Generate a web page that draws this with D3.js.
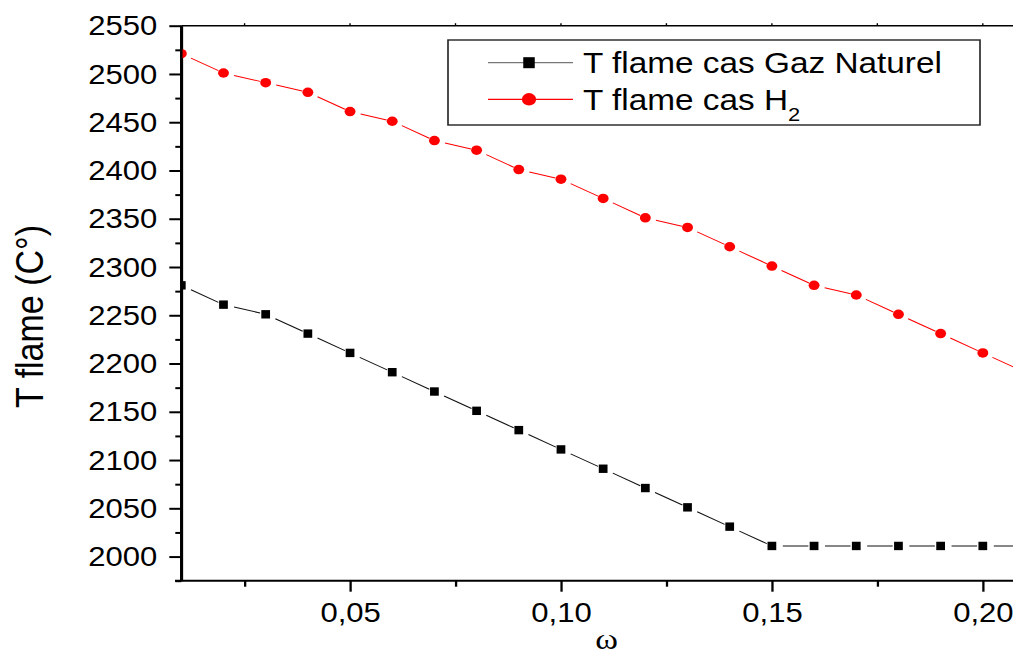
<!DOCTYPE html>
<html>
<head>
<meta charset="utf-8">
<script src="https://cdn.jsdelivr.net/npm/d3@7"></script>
<style>
  html, body { margin: 0; padding: 0; background: #fff; }
  svg { display: block; }
  text { font-family: "Liberation Sans", Arial, sans-serif; fill: #000; }
</style>
</head>
<body>
<svg id="chart"></svg>
<script>
// Mass fraction ω (x) and flame temperature (°C) for both fuels
const omega = [0.01, 0.02, 0.03, 0.04, 0.05, 0.06, 0.07, 0.08, 0.09, 0.10, 0.11,
               0.12, 0.13, 0.14, 0.15, 0.16, 0.17, 0.18, 0.19, 0.20, 0.21];
const tGazNaturel = [2281, 2261, 2251, 2231, 2211, 2191, 2171, 2151, 2131, 2111, 2091,
                     2071, 2051, 2031, 2011, 2011, 2011, 2011, 2011, 2011, 2011];
const tH2 = [2521, 2501, 2491, 2481, 2461, 2451, 2431, 2421, 2401, 2391, 2371,
             2351, 2341, 2321, 2301, 2281, 2271, 2251, 2231, 2211, 2191];

const xMajorTicks = [0.05, 0.10, 0.15, 0.20];
const xMinorTicks = [0.025, 0.075, 0.125, 0.175];
const yMajorTicks = [2000, 2050, 2100, 2150, 2200, 2250, 2300, 2350, 2400, 2450, 2500, 2550];
const yMinorTicks = [1975, 2025, 2075, 2125, 2175, 2225, 2275, 2325, 2375, 2425, 2475, 2525];

const seriesNames = ["T flame cas Gaz Naturel", "T flame cas H"];

// The drawing is laid out in a slightly narrower user space and stretched
// horizontally to fill the window.
const WIDTH = 1013, HEIGHT = 657, SX = 1.15;
const W = WIDTH / SX;
const px = v => v / SX;   // window x -> user-space x

const svg = d3.select("#chart")
  .attr("width", WIDTH).attr("height", HEIGHT)
  .attr("viewBox", `0 0 ${W} ${HEIGHT}`)
  .attr("preserveAspectRatio", "none");

const plotLeft = px(181.3), plotRight = px(1025), plotTop = 25.7, plotBottom = 580.7;

const x = d3.scaleLinear().domain([0.01, 0.21]).range([plotLeft, plotRight]);
const y = d3.scaleLinear().domain([1975, 2550]).range([plotBottom, plotTop]);

svg.append("defs").append("clipPath").attr("id", "plot")
  .append("rect").attr("x", plotLeft).attr("y", plotTop)
  .attr("width", W - plotLeft).attr("height", plotBottom - plotTop);

const fmtX = d => d3.format(".2f")(d).replace(".", ",");

// Top frame line with small outward ticks
svg.append("line").attr("x1", plotLeft).attr("x2", W).attr("y1", plotTop).attr("y2", plotTop)
  .attr("stroke", "#000").attr("stroke-width", 1.4);
svg.append("g").selectAll("line")
  .data(xMajorTicks.concat(xMinorTicks))
  .join("line")
  .attr("x1", d => x(d)).attr("x2", d => x(d))
  .attr("y1", plotTop).attr("y2", plotTop - 2.5)
  .attr("stroke", "#000").attr("stroke-width", 1.2);

// Bottom axis
const gx = svg.append("g").attr("transform", `translate(0,${plotBottom})`);
gx.call(d3.axisBottom(x).tickValues(xMajorTicks).tickFormat(fmtX)
  .tickSize(11).tickPadding(11.5).tickSizeOuter(0));
gx.append("g").call(d3.axisBottom(x).tickValues(xMinorTicks).tickFormat("")
  .tickSize(6).tickSizeOuter(0))
  .select(".domain").remove();
gx.select(".domain").attr("d", `M${px(175)},0H${W}`);
gx.selectAll("line, path").attr("stroke", "#000").attr("stroke-width", 2);
gx.selectAll("text").attr("font-size", 27)
  .style("font-family", "'Liberation Sans', Arial, sans-serif");

// Left axis
const gy = svg.append("g").attr("transform", `translate(${plotLeft},0)`);
gy.call(d3.axisLeft(y).tickValues(yMajorTicks).tickFormat(d3.format("d"))
  .tickSize(px(12)).tickPadding(px(12)).tickSizeOuter(0));
gy.append("g").call(d3.axisLeft(y).tickValues(yMinorTicks).tickFormat("")
  .tickSize(px(6)).tickSizeOuter(0))
  .select(".domain").remove();
gy.selectAll("line").attr("stroke", "#000").attr("stroke-width", 2);
gy.select(".domain").attr("stroke", "#000").attr("stroke-width", 2.2);
gy.selectAll("text").attr("font-size", 27).attr("dy", "0.34em")
  .style("font-family", "'Liberation Sans', Arial, sans-serif");

// Axis titles
svg.append("text")
  .attr("transform", `translate(${px(43)},316.5) rotate(-90)`)
  .attr("text-anchor", "middle")
  .attr("font-size", 34)
  .text("T flame (C°)");
svg.append("text")
  .attr("x", px(606.7)).attr("y", 649)
  .attr("text-anchor", "middle")
  .attr("font-size", 30)
  .style("font-family", "'Liberation Serif', 'Times New Roman', serif")
  .text("ω");

// Connecting lines leave a gap around each marker
function gappedSegments(xs, ys, startGap, endGap) {
  const segs = [];
  for (let i = 0; i < xs.length - 1; i++) {
    const x0 = x(xs[i]), y0 = y(ys[i]), x1 = x(xs[i + 1]), y1 = y(ys[i + 1]);
    const dx = x1 - x0, dy = y1 - y0, len = Math.hypot(dx, dy);
    const ux = dx / len, uy = dy / len;
    segs.push([x0 + ux * startGap, y0 + uy * startGap, x1 - ux * endGap, y1 - uy * endGap]);
  }
  return segs;
}

const plot = svg.append("g").attr("clip-path", "url(#plot)");

function drawSeries(values, color, lineColor, marker) {
  plot.append("g").selectAll("line")
    .data(gappedSegments(omega, values, 9.5, 5))
    .join("line")
    .attr("x1", d => d[0]).attr("y1", d => d[1])
    .attr("x2", d => d[2]).attr("y2", d => d[3])
    .attr("stroke", lineColor).attr("stroke-width", 1);
  const pts = omega.map((o, i) => [x(o), y(values[i])]);
  if (marker === "square") {
    plot.append("g").selectAll("rect").data(pts).join("rect")
      .attr("x", d => d[0] - 3.8).attr("y", d => d[1] - 4.2)
      .attr("width", 7.6).attr("height", 8.4).attr("fill", color);
  } else {
    plot.append("g").selectAll("circle").data(pts).join("circle")
      .attr("cx", d => d[0]).attr("cy", d => d[1])
      .attr("r", 4.75).attr("fill", color);
  }
}

drawSeries(tGazNaturel, "#000", "#111", "square");
drawSeries(tH2, "#ff0000", "#ff0000", "circle");

// Redraw the left axis line on top of the clipped edge markers
svg.append("line").attr("x1", plotLeft).attr("x2", plotLeft)
  .attr("y1", plotTop).attr("y2", plotBottom)
  .attr("stroke", "#000").attr("stroke-width", 2.2);

// Legend
const legend = svg.append("g");
legend.append("rect")
  .attr("x", px(448)).attr("y", 40)
  .attr("width", px(980) - px(448)).attr("height", 85)
  .attr("fill", "#fff").attr("stroke", "#222").attr("stroke-width", 1.4);

const legendRows = [
  { name: seriesNames[0], y: 62.7, line: "#777", fill: "#000", marker: "square" },
  { name: seriesNames[1], y: 99.3, line: "#ff0000", fill: "#ff0000", marker: "circle" }
];
legendRows.forEach((r, i) => {
  legend.append("line")
    .attr("x1", px(488)).attr("x2", px(573)).attr("y1", r.y).attr("y2", r.y)
    .attr("stroke", r.line).attr("stroke-width", 1.2);
  if (r.marker === "square") {
    legend.append("rect").attr("x", px(529) - 5).attr("y", r.y - 5.5)
      .attr("width", 10).attr("height", 11).attr("fill", r.fill);
  } else {
    legend.append("circle").attr("cx", px(529)).attr("cy", r.y).attr("r", 6.2)
      .attr("fill", r.fill);
  }
  const t = legend.append("text")
    .attr("x", px(583)).attr("y", r.y + 10.6)
    .attr("font-size", 29)
    .text(r.name);
  if (i === 1) {
    t.append("tspan").attr("font-size", 19).attr("dy", 11.5).text("2");
  }
});
</script>
</body>
</html>
